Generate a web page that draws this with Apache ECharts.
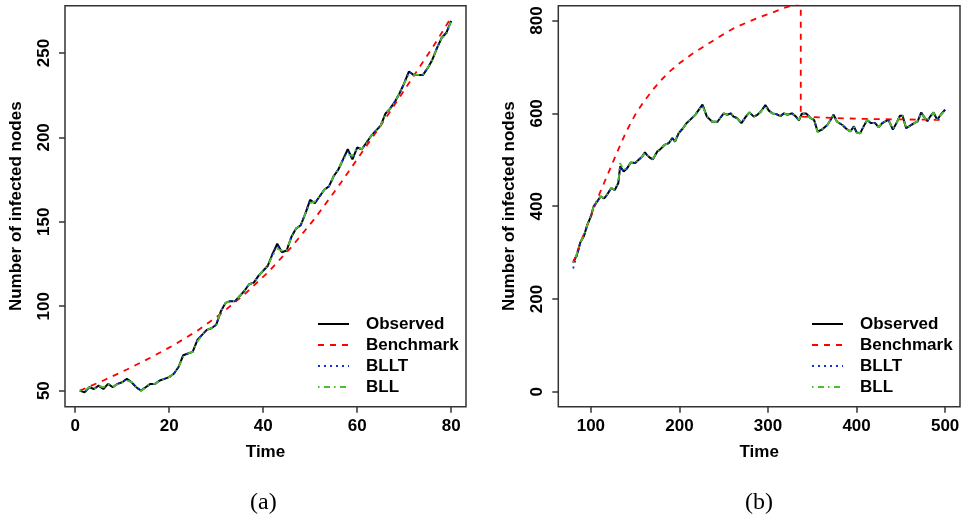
<!DOCTYPE html>
<html><head><meta charset="utf-8">
<script src="https://cdn.jsdelivr.net/npm/echarts@6/dist/echarts.min.js"></script>
<style>html,body{margin:0;padding:0;background:#fff}#c{width:967px;height:526px}</style>
</head><body><div id="c"></div>
<script>
// ---------- data: panel (a) ----------
const leftTime = [1,2,3,4,5,6,7,8,9,10,11,12,13,14,15,16,17,18,19,20,21,22,23,24,25,26,27,28,29,30,31,32,33,34,35,36,37,38,39,40,41,42,43,44,45,46,47,48,49,50,51,52,53,54,55,56,57,58,59,60,61,62,63,64,65,66,67,68,69,70,71,72,73,74,75,76,77,78,79,80];
const leftObserved = [50,49,52,51,53,51,54,52,54,55,57,55,52,50,52,54,54,56,57,58,60,64,71,72,73,80,83,86,87,89,97,102,103,103,106,109,113,114,118,121,124,131,137,132,133,141,146,148,155,163,161,165,169,171,177,181,187,193,187,194,193,197,201,204,207,214,217,221,226,232,239,237,237,237,241,246,253,259,262,269];
const leftBLLT = [50,49,52,51,53,51,54,52,54,55,57,55,52,50,52,54,54,56,57,58,60,64,71,72,73,80,83,86,87,89,97,102,103,103,106,109,113,114,118,121,124,131,136,132,133,141,146,148,155,163,161,165,169,171,177,181,187,192,187,194,193,197,201,204,207,214,217,221,226,232,239,237,237,237,241,246,253,259,262,269];
const leftBLL = [50,50,52,51,53,52,54,52,54,55,56,55,52,50,52,54,54,56,57,58,60,64,70,72,73,79,83,86,87,89,97,102,103,103,106,109,113,114,118,121,124,130,134,133,133,141,146,148,155,161,162,165,169,171,177,181,187,190,189,194,193,197,201,204,207,214,217,221,226,232,237,237,237,237,241,246,253,259,261,269];
const leftBenchTime = [1,6,11,16,21,26,31,36,41,46,51,56,61,66,71,76,80];
const leftBench = [50,56,62.5,69.5,77,85.5,95.5,107,120,135,152,171,191,211,232,253,271];
const leftXTicks = [0,20,40,60,80];
const leftYTicks = [50,100,150,200,250];

// ---------- data: panel (b) ----------
const rightTime = [80,82,85,88,92,96,100,103,107,111,115,118,123,127,131,133,137,141,145,150,154,158,161,163,167,170,175,178,183,188,192,195,199,204,208,212,218,222,226,228,231,237,243,246,250,254,258,261,265,270,275,279,284,288,292,297,301,305,310,314,318,322,327,331,335,338,343,348,352,356,361,367,372,374,378,384,389,393,397,400,404,408,412,416,421,425,429,432,436,441,445,449,452,456,461,465,469,473,476,480,483,487,491,495,500];
const rightObserved = [280,286,300,322,335,360,378,399,410,421,417,424,439,435,450,486,475,482,494,493,500,507,516,511,504,501,518,522,532,536,547,539,557,568,579,586,597,608,619,615,593,582,582,590,600,597,600,593,590,579,593,602,593,597,604,618,606,600,598,594,600,597,600,594,585,599,600,590,586,561,565,575,590,597,582,575,566,561,572,559,557,572,586,579,579,570,579,582,586,565,579,595,595,568,574,579,583,602,593,583,593,602,586,597,608];
const rightBLLT = [266,280,298,322,335,360,378,399,410,421,417,424,439,435,450,486,475,482,494,493,500,507,516,511,504,501,518,522,532,536,547,539,557,568,579,586,597,608,619,615,593,582,582,590,600,597,600,593,590,579,593,602,593,597,604,618,606,600,598,594,600,597,600,594,585,599,600,590,586,561,565,575,590,597,582,575,566,561,572,559,557,572,586,579,579,570,579,582,586,565,579,595,595,568,574,579,583,602,593,583,593,602,586,597,608];
const rightBLL = [278,286,302,322,336,360,378,399,410,421,418,424,439,436,452,493,478,482,494,493,500,507,515,511,504,502,518,522,532,536,546,540,557,568,579,586,597,608,616,614,594,582,582,590,600,597,600,594,590,580,593,602,593,597,604,614,606,600,598,594,600,597,600,594,586,599,600,590,586,559,565,575,590,596,582,575,566,561,571,558,557,572,586,579,579,570,579,582,586,566,579,594,595,568,574,579,583,601,593,583,593,602,586,597,606];
const rightBenchTime = [80,90,100,105,110,120,130,140,150,160,170,180,190,200,215,230,245,260,275,290,305,318,330,337,337,350,375,400,425,450,475,495];
const rightBench = [278,330,378,404,428,473,518,561,597,626,651,673,692,708,729,747,765,782,795,807,817,827,834,838,593,592,590,588.5,587.5,587,586.5,586];
const rightXTicks = [100,200,300,400,500];
const rightYTicks = [0,200,400,600,800];

const seriesNames = ['Observed','Benchmark','BLLT','BLL'];
const captions = ['(a)','(b)'];

// ---------- styles ----------
const F = '"Liberation Sans", Arial, Helvetica, sans-serif';
const AX = '#333';
const txt = {fontFamily:F, fontWeight:'bold', fontSize:17, color:'#000'};
const styles = {
  Observed:{color:'#000000', width:2, type:'solid'},
  Benchmark:{color:'#FF0000', width:1.8, type:[6,6]},
  BLLT:{color:'#1030E0', width:1.8, type:[2,4]},
  BLL:{color:'#4CC02C', width:1.8, type:[1.5,4.5,6,4]}
};

function xAxis(gi, min, max, ticks){
  return {type:'value', gridIndex:gi, min, max, name:'Time', nameLocation:'middle', nameGap:37,
    nameTextStyle:txt, axisLine:{show:false, onZero:false}, splitLine:{show:false},
    axisTick:{show:true, inside:false, length:6, customValues:ticks, lineStyle:{color:AX, width:1.5}},
    axisLabel:Object.assign({customValues:ticks, margin:11}, txt)};
}
function yAxis(gi, min, max, ticks){
  return {type:'value', gridIndex:gi, min, max, name:'Number of infected nodes', nameLocation:'middle', nameGap:40,
    nameTextStyle:txt, axisLine:{show:false, onZero:false}, splitLine:{show:false},
    axisTick:{show:true, inside:false, length:6, customValues:ticks, lineStyle:{color:AX, width:1.5}},
    axisLabel:Object.assign({customValues:ticks, margin:12, rotate:90}, txt)};
}
function pairs(xs, ys){ return xs.map((x,i)=>[x, ys[i]]); }
function line(name, gi, data, z){
  const s = styles[name];
  return {name, type:'line', xAxisIndex:gi, yAxisIndex:gi, data, symbol:'none', clip:true, z,
    lineStyle:{color:s.color, width:s.width, type:s.type}, itemStyle:{color:s.color}, animation:false};
}
function legend(left){
  return {left, top:315.5, orient:'vertical', padding:0, itemWidth:31, itemHeight:17, itemGap:4,
    selectedMode:false, data:seriesNames,
    itemStyle:{color:'rgba(0,0,0,0)', borderColor:'rgba(0,0,0,0)', borderWidth:0},
    textStyle:Object.assign({padding:[0,0,0,12], lineHeight:17}, txt)};
}

const chart = echarts.init(document.getElementById('c'), null, {renderer:'canvas'});
chart.setOption({
  backgroundColor:'#fff',
  animation:false,
  grid:[
    {left:65, top:5.7, width:401, height:401, show:true, borderColor:AX, borderWidth:1.5, backgroundColor:'transparent'},
    {left:558.3, top:5.7, width:401.7, height:401, show:true, borderColor:AX, borderWidth:1.5, backgroundColor:'transparent'}
  ],
  xAxis:[xAxis(0,-2.16,83.16,leftXTicks), xAxis(1,63.2,516.8,rightXTicks)],
  yAxis:[yAxis(0,40.5,278,leftYTicks), yAxis(1,-32,832,rightYTicks)],
  legend:[legend(317), legend(811)],
  series:[
    line('Observed',0,pairs(leftTime,leftObserved),2),
    line('Benchmark',0,pairs(leftBenchTime,leftBench),3),
    line('BLLT',0,pairs(leftTime,leftBLLT),4),
    line('BLL',0,pairs(leftTime,leftBLL),5),
    line('Observed',1,pairs(rightTime,rightObserved),2),
    line('Benchmark',1,pairs(rightBenchTime,rightBench),3),
    line('BLLT',1,pairs(rightTime,rightBLLT),4),
    line('BLL',1,pairs(rightTime,rightBLL),5)
  ],
  graphic:[
    {type:'text', left:'center', top:491, style:{text:captions[0], font:'24px "Liberation Serif", "Times New Roman", serif', fill:'#000'}, left:250},
    {type:'text', top:491, style:{text:captions[1], font:'24px "Liberation Serif", "Times New Roman", serif', fill:'#000'}, left:745}
  ]
});
</script></body></html>
